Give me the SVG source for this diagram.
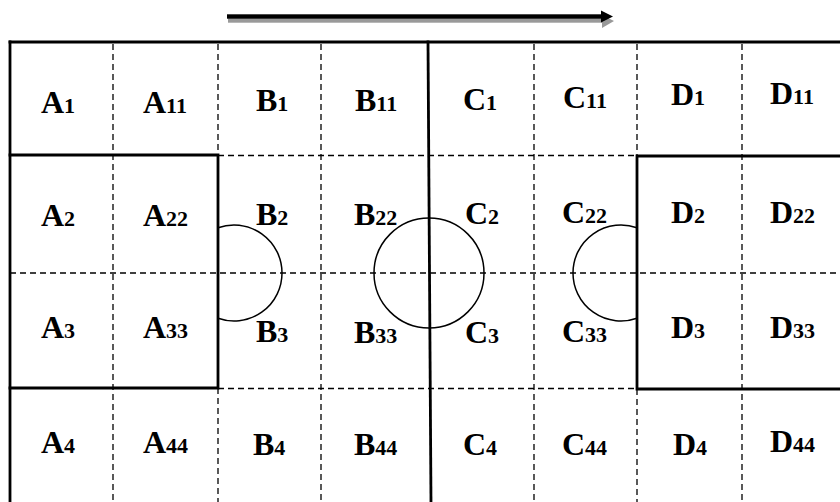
<svg xmlns="http://www.w3.org/2000/svg" width="840" height="502" viewBox="0 0 840 502">
<style>
.solid{stroke:#000;stroke-width:2.8;fill:none;stroke-linecap:square}
.dash{stroke:#000;stroke-width:1.3;fill:none;stroke-dasharray:6 4}
.circ{stroke:#000;stroke-width:1.5;fill:none}
.lbl{font-family:"Liberation Serif","Times New Roman",serif;font-weight:bold;font-size:32px;fill:#000}
.sub{font-size:22px}
</style>
<rect width="840" height="502" fill="#fff"/>
<g id="grid">
<line class="dash" x1="113" y1="44" x2="113" y2="502"/>
<line class="dash" x1="218" y1="44" x2="218" y2="155"/>
<line class="dash" x1="218" y1="388" x2="218" y2="502"/>
<line class="dash" x1="321" y1="44" x2="321" y2="502"/>
<line class="dash" x1="534" y1="44" x2="534" y2="502"/>
<line class="dash" x1="637" y1="44" x2="637" y2="156"/>
<line class="dash" x1="637" y1="389" x2="637" y2="502"/>
<line class="dash" x1="742" y1="44" x2="742" y2="502"/>
<line class="dash" x1="218" y1="155.5" x2="637" y2="155.5"/>
<line class="dash" x1="10" y1="273" x2="840" y2="273"/>
<line class="dash" x1="218" y1="388.5" x2="637" y2="388.5"/>
<line class="solid" x1="10" y1="42" x2="842" y2="42"/>
<line class="solid" x1="10" y1="42" x2="10" y2="504"/>
<line class="solid" x1="428" y1="42" x2="431" y2="504"/>
<path class="solid" d="M10,155 H218 V388 H10"/>
<path class="solid" d="M842,156 H637 V389 H842"/>
</g>
<g id="circles">
<path class="circ" d="M218,227.75 A48,48 0 1 1 218,318.25"/>
<circle class="circ" cx="429" cy="273" r="55"/>
<path class="circ" d="M637,227.75 A48,48 0 1 0 637,318.25"/>
</g>
<g id="connectors">
<g fill="#999" transform="translate(1,4)">
<rect x="227" y="14.3" width="376" height="4.4"/>
<polygon points="601,11 613,17 601,24"/>
</g>
<g fill="#000">
<rect x="227" y="14.3" width="376" height="4.4"/>
<polygon points="601,10.5 613,16.5 601,22.5"/>
</g>
</g>
<g id="n-A1"><text class="lbl" x="41" y="113">A<tspan class="sub">1</tspan></text></g>
<g id="n-A11"><text class="lbl" x="143" y="113">A<tspan class="sub">11</tspan></text></g>
<g id="n-B1"><text class="lbl" x="256" y="111">B<tspan class="sub">1</tspan></text></g>
<g id="n-B11"><text class="lbl" x="355" y="111">B<tspan class="sub">11</tspan></text></g>
<g id="n-C1"><text class="lbl" x="463" y="110">C<tspan class="sub">1</tspan></text></g>
<g id="n-C11"><text class="lbl" x="563" y="108">C<tspan class="sub">11</tspan></text></g>
<g id="n-D1"><text class="lbl" x="671" y="105">D<tspan class="sub">1</tspan></text></g>
<g id="n-D11"><text class="lbl" x="770" y="104">D<tspan class="sub">11</tspan></text></g>
<g id="n-A2"><text class="lbl" x="41" y="226">A<tspan class="sub">2</tspan></text></g>
<g id="n-A22"><text class="lbl" x="143" y="226">A<tspan class="sub">22</tspan></text></g>
<g id="n-B2"><text class="lbl" x="256" y="225">B<tspan class="sub">2</tspan></text></g>
<g id="n-B22"><text class="lbl" x="354" y="225">B<tspan class="sub">22</tspan></text></g>
<g id="n-C2"><text class="lbl" x="465" y="224">C<tspan class="sub">2</tspan></text></g>
<g id="n-C22"><text class="lbl" x="562" y="223">C<tspan class="sub">22</tspan></text></g>
<g id="n-D2"><text class="lbl" x="671" y="223">D<tspan class="sub">2</tspan></text></g>
<g id="n-D22"><text class="lbl" x="770" y="223">D<tspan class="sub">22</tspan></text></g>
<g id="n-A3"><text class="lbl" x="41" y="338">A<tspan class="sub">3</tspan></text></g>
<g id="n-A33"><text class="lbl" x="143" y="338">A<tspan class="sub">33</tspan></text></g>
<g id="n-B3"><text class="lbl" x="256" y="342">B<tspan class="sub">3</tspan></text></g>
<g id="n-B33"><text class="lbl" x="354" y="343">B<tspan class="sub">33</tspan></text></g>
<g id="n-C3"><text class="lbl" x="465" y="343">C<tspan class="sub">3</tspan></text></g>
<g id="n-C33"><text class="lbl" x="562" y="342">C<tspan class="sub">33</tspan></text></g>
<g id="n-D3"><text class="lbl" x="671" y="338">D<tspan class="sub">3</tspan></text></g>
<g id="n-D33"><text class="lbl" x="770" y="338">D<tspan class="sub">33</tspan></text></g>
<g id="n-A4"><text class="lbl" x="41" y="453">A<tspan class="sub">4</tspan></text></g>
<g id="n-A44"><text class="lbl" x="143" y="453">A<tspan class="sub">44</tspan></text></g>
<g id="n-B4"><text class="lbl" x="253" y="455">B<tspan class="sub">4</tspan></text></g>
<g id="n-B44"><text class="lbl" x="354" y="455">B<tspan class="sub">44</tspan></text></g>
<g id="n-C4"><text class="lbl" x="463" y="455">C<tspan class="sub">4</tspan></text></g>
<g id="n-C44"><text class="lbl" x="562" y="455">C<tspan class="sub">44</tspan></text></g>
<g id="n-D4"><text class="lbl" x="673" y="455">D<tspan class="sub">4</tspan></text></g>
<g id="n-D44"><text class="lbl" x="770" y="452">D<tspan class="sub">44</tspan></text></g>
</svg>
